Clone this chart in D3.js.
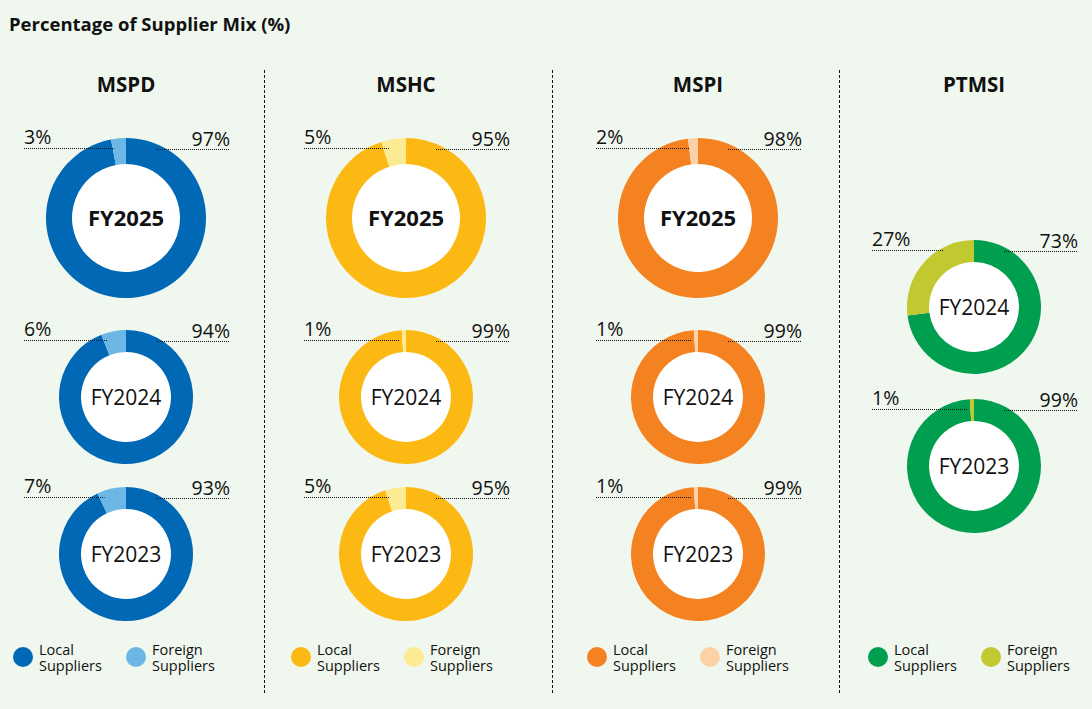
<!DOCTYPE html>
<html lang="en">
<head>
    <meta charset="UTF-8">
    <title>Percentage of Supplier Mix (%)</title>
    <style>
        body { margin: 0; overflow: hidden; background: #f0f7ee; }
        text { font-family: "Open Sans", Lato, sans-serif; fill: #111; }
    </style>
</head>
<body>
    <script src="https://d3js.org/d3.v7.min.js"></script>
    <script>
        // chart values
        const companies = ['MSPD', 'MSHC', 'MSPI', 'PTMSI'];
        const years = [
            ['FY2025', 'FY2024', 'FY2023'],
            ['FY2025', 'FY2024', 'FY2023'],
            ['FY2025', 'FY2024', 'FY2023'],
            ['FY2024', 'FY2023']
        ];
        const localPct = [
            [97, 94, 93],
            [95, 99, 95],
            [98, 99, 99],
            [73, 99]
        ];
        const foreignPct = [
            [3, 6, 7],
            [5, 1, 5],
            [2, 1, 1],
            [27, 1]
        ];
        const seriesNames = ['Local Suppliers', 'Foreign Suppliers'];
        const localColors = ['#0068b5', '#fdb913', '#f58220', '#009e4f'];
        const foreignColors = ['#6db7e6', '#fdeb93', '#fdd1a7', '#c2c82f'];

        const width = 1092, height = 709;
        const svg = d3.select('body').append('svg')
            .attr('width', width)
            .attr('height', height);

        svg.append('text')
            .attr('x', 9).attr('y', 31)
            .style('font-size', '18.5px').style('font-weight', 700)
            .text('Percentage of Supplier Mix (%)');

        // column layout
        const centers = [126, 406, 698, 974];
        const legendX = [23, 301, 597, 878];
        const sepX = [264.5, 552.5, 839.5];

        svg.selectAll('.sep').data(sepX).enter().append('line')
            .attr('class', 'sep')
            .attr('x1', d => d).attr('x2', d => d)
            .attr('y1', 70).attr('y2', 693)
            .attr('stroke', '#111').attr('stroke-width', 1)
            .attr('stroke-dasharray', '3,2');

        // vertical slots: first rows are big for 3-year columns
        const slots3 = [{ cy: 218, r: 80, bold: true }, { cy: 397, r: 67 }, { cy: 554, r: 67 }];
        const slots2 = [{ cy: 307, r: 67 }, { cy: 466, r: 67 }];

        const pie = d3.pie().sort(null).value(d => d.v);

        companies.forEach((name, ci) => {
            const cx = centers[ci];
            const g = svg.append('g');

            g.append('text')
                .attr('x', cx).attr('y', 92)
                .attr('text-anchor', 'middle')
                .style('font-size', '20.5px').style('font-weight', 700)
                .text(name);

            const slots = years[ci].length === 3 ? slots3 : slots2;

            years[ci].forEach((yr, yi) => {
                const s = slots[yi];
                const inner = s.bold ? 54 : 45;
                const arc = d3.arc().innerRadius(inner).outerRadius(s.r);
                const parts = [
                    { v: localPct[ci][yi], c: localColors[ci] },
                    { v: foreignPct[ci][yi], c: foreignColors[ci] }
                ];
                const dg = g.append('g').attr('transform', `translate(${cx},${s.cy})`);
                dg.append('circle').attr('r', inner).attr('fill', '#fff');
                dg.selectAll('path').data(pie(parts)).enter().append('path')
                    .attr('d', arc)
                    .attr('fill', d => d.data.c);

                dg.append('text')
                    .attr('y', 8)
                    .attr('text-anchor', 'middle')
                    .style('font-size', s.bold ? '22px' : '21px')
                    .style('font-weight', s.bold ? 700 : 400)
                    .text(yr);

                // percentage labels with dotted leaders
                const lineY = Math.round(s.cy - s.r + 10) + 0.5;
                const leftX = cx - 102;
                const rightX = cx + 104;
                const f = foreignPct[ci][yi] / 100;
                const leftEnd = cx - Math.min(30, 4 + 250 * f);

                g.append('line')
                    .attr('x1', leftX).attr('x2', leftEnd)
                    .attr('y1', lineY).attr('y2', lineY)
                    .attr('stroke', '#111').attr('stroke-dasharray', '1,1');
                g.append('line')
                    .attr('x1', cx + 30).attr('x2', rightX)
                    .attr('y1', lineY + 1).attr('y2', lineY + 1)
                    .attr('stroke', '#111').attr('stroke-dasharray', '1,1');

                g.append('text')
                    .attr('x', leftX).attr('y', lineY - 5)
                    .style('font-size', '19.5px')
                    .text(foreignPct[ci][yi] + '%');
                g.append('text')
                    .attr('x', rightX).attr('y', lineY - 3)
                    .attr('text-anchor', 'end')
                    .style('font-size', '19.5px')
                    .text(localPct[ci][yi] + '%');
            });

            // legend
            const lx = legendX[ci];
            const leg = g.selectAll('.leg').data(seriesNames).enter().append('g')
                .attr('transform', (d, i) => `translate(${lx + i * 113},657)`);
            leg.append('circle').attr('r', 10)
                .attr('fill', (d, i) => i === 0 ? localColors[ci] : foreignColors[ci]);
            const lt = leg.append('text')
                .attr('x', 16)
                .style('font-size', '14.5px');
            lt.append('tspan').attr('x', 16).attr('y', -2.5)
                .text(d => d.split(' ')[0]);
            lt.append('tspan').attr('x', 16).attr('y', 13.5)
                .text(d => d.split(' ')[1]);
        });
    </script>
</body>
</html>
